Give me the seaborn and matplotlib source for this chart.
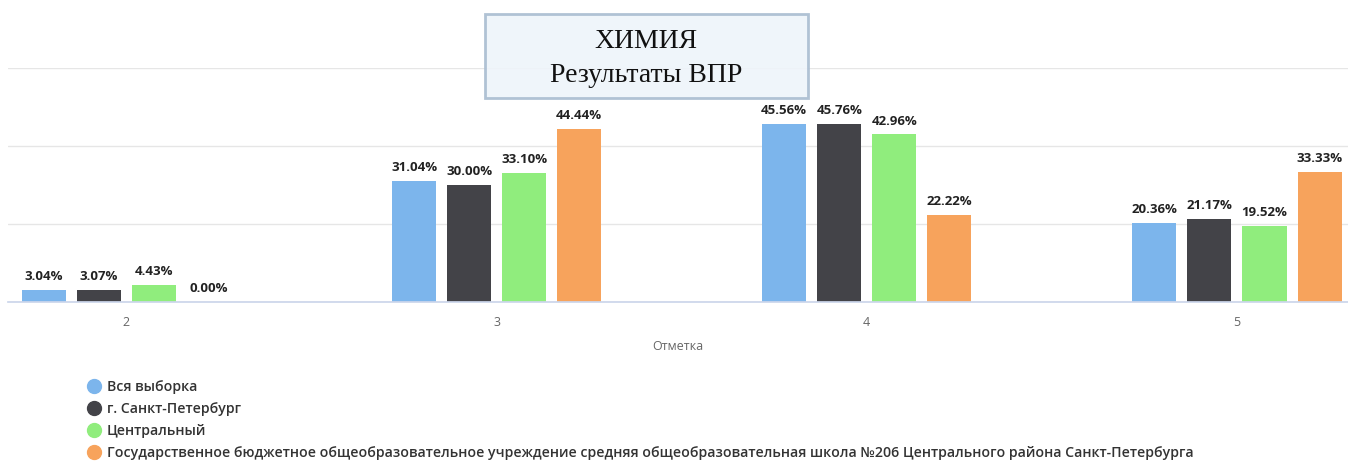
import matplotlib
matplotlib.use("Agg")
import matplotlib.pyplot as plt
import seaborn as sns
import pandas as pd
from matplotlib.patches import Rectangle
from matplotlib.lines import Line2D

grades = ["2", "3", "4", "5"]
series = [
    "Вся выборка",
    "г. Санкт-Петербург",
    "Центральный",
    "Государственное бюджетное общеобразовательное учреждение средняя общеобразовательная школа №206 Центрального района Санкт-Петербурга",
]
vals_all = [3.04, 31.04, 45.56, 20.36]
vals_spb = [3.07, 30.00, 45.76, 21.17]
vals_central = [4.43, 33.10, 42.96, 19.52]
vals_school = [0.00, 44.44, 22.22, 33.33]
colors = ["#7cb5ec", "#434348", "#90ed7d", "#f7a35c"]

rows = []
for s, vals in zip(series, [vals_all, vals_spb, vals_central, vals_school]):
    for g, v in zip(grades, vals):
        rows.append({"Отметка": g, "series": s, "value": v})
df = pd.DataFrame(rows)

sns.set_theme(style="white")
plt.rcParams["font.family"] = ["Open Sans", "DejaVu Sans"]

fig = plt.figure(figsize=(13.48, 4.62), dpi=100)
ax = fig.add_axes([8 / 1348, 1 - 302 / 462, 1 - 8 / 1348, (302 - 68) / 462])

sns.barplot(data=df, x="Отметка", y="value", hue="series", hue_order=series,
            palette=colors, width=0.595, gap=0.2, ax=ax, legend=False,
            saturation=1, edgecolor="none", linewidth=0, zorder=3)

for cont in ax.containers:
    ax.bar_label(cont, fmt="%.2f%%", padding=5, fontsize=9.5, fontweight="bold",
                 color="#222222")

ax.set_ylim(0, 60)
ax.set_xlim(-0.32, 3.3)
ax.set_yticks([0, 20, 40, 60])
ax.set_yticklabels([])
ax.tick_params(axis="y", length=0)
ax.grid(axis="y", color="#e6e6e6", linewidth=1, zorder=0)
for sp in ["top", "right", "left"]:
    ax.spines[sp].set_visible(False)
ax.spines["bottom"].set_color("#ccd6eb")
ax.spines["bottom"].set_zorder(4)
ax.tick_params(axis="x", length=0, pad=10, labelsize=9, labelcolor="#666666")
ax.set_ylabel("")
ax.set_xlabel("Отметка", fontsize=9, color="#666666", labelpad=8)

handles = [Line2D([0], [0], marker="o", linestyle="none", markersize=10,
                  markerfacecolor=c, markeredgecolor=c) for c in colors]
fig.legend(handles, series, loc="upper left", bbox_to_anchor=(80 / 1348, 1 - 374 / 462),
           frameon=False, handletextpad=0.3, labelspacing=0.58,
           borderaxespad=0, handlelength=1.2, labelcolor="#333333",
           prop={"weight": "semibold", "size": 10.2})

box = Rectangle((485 / 1348, 1 - 98 / 462), 323 / 1348, 84 / 462,
                transform=fig.transFigure, facecolor="#eef4fa", alpha=0.9,
                edgecolor="#a9bcd0", linewidth=2, zorder=10)
fig.patches.append(box)
fig.text(646 / 1348, 1 - 42 / 462, "ХИМИЯ", ha="center", va="center",
         fontsize=20, family=["Liberation Serif", "DejaVu Serif"], color="#111111", zorder=11)
fig.text(646 / 1348, 1 - 75 / 462, "Результаты ВПР", ha="center", va="center",
         fontsize=20, family=["Liberation Serif", "DejaVu Serif"], color="#111111", zorder=11)

fig.savefig("out.png", dpi=100, facecolor="white")
